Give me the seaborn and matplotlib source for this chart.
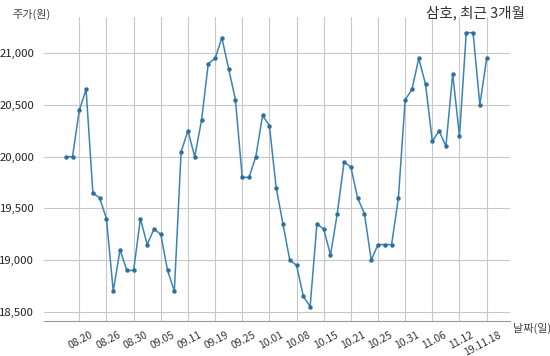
import matplotlib
matplotlib.use("Agg")
import matplotlib.pyplot as plt
import matplotlib.transforms as mtransforms
import seaborn as sns
import pandas as pd
from matplotlib.ticker import FuncFormatter

prices = [20000, 20000, 20450, 20650, 19650, 19600, 19400, 18700, 19100, 18900,
          18900, 19400, 19150, 19300, 19250, 18900, 18700, 20050, 20250, 20000,
          20350, 20900, 20950, 21150, 20850, 20550, 19800, 19800, 20000, 20400,
          20300, 19700, 19350, 19000, 18950, 18650, 18550, 19350, 19300, 19050,
          19450, 19950, 19900, 19600, 19450, 19000, 19150, 19150, 19150, 19600,
          20550, 20650, 20950, 20700, 20150, 20250, 20100, 20800, 20200, 21200,
          21200, 20500, 20950]
tick_pos = [2, 6, 10, 14, 18, 22, 26, 30, 34, 38, 42, 46, 50, 54, 58, 62]
tick_labels = ["08.20", "08.26", "08.30", "09.05", "09.11", "09.19", "09.25",
               "10.01", "10.08", "10.15", "10.21", "10.25", "10.31", "11.06",
               "11.12", "19.11.18"]
y_ticks = [18500, 19000, 19500, 20000, 20500, 21000]

sns.set_theme(style="whitegrid")
plt.rcParams['font.family'] = ['Noto Sans CJK KR', 'DejaVu Sans']

df = pd.DataFrame({"idx": range(len(prices)), "price": prices})

fig = plt.figure(figsize=(5.5, 3.56), dpi=100)
ax = fig.add_axes([0.08, 0.098, 0.848, 0.854])
sns.lineplot(data=df, x="idx", y="price", ax=ax, color="#3a84b6", linewidth=1.1,
             marker="o", markersize=3.2, markeredgewidth=0, markerfacecolor="#2f6f9c")

ax.set_xticks(tick_pos)
ax.set_xticklabels(tick_labels, rotation=28, fontsize=7.5, color="#333333",
                   ha="right", rotation_mode="anchor")
ax.set_yticks(y_ticks)
ax.yaxis.set_major_formatter(FuncFormatter(lambda v, p: f"{int(v):,}"))
ax.tick_params(axis="y", labelsize=8.2, colors="#222222", pad=1)
ax.tick_params(axis="x", pad=0)
offset = mtransforms.ScaledTranslation(0.11, 0.0, fig.dpi_scale_trans)
for lbl in ax.get_xticklabels():
    lbl.set_transform(lbl.get_transform() + offset)
ax.set_xlabel("")
ax.set_ylabel("")
ax.grid(True, color="#c8c8c8", linewidth=0.8)
for s in ["left", "right", "top"]:
    ax.spines[s].set_visible(False)
ax.spines["bottom"].set_color("#999999")
ax.spines["bottom"].set_linewidth(0.8)
ax.set_ylim(18410, 21350)
ax.set_xlim(-3.2, 65.5)

fig.text(0.022, 0.96, "주가(원)", fontsize=8, color="#444444", ha="left", va="center")
fig.text(0.955, 0.965, "삼호, 최근 3개월", fontsize=10.5, color="#333333", ha="right", va="center")
fig.text(0.932, 0.076, "날짜(일)", fontsize=8, color="#444444", ha="left", va="center")

fig.savefig("out.png", dpi=100)
